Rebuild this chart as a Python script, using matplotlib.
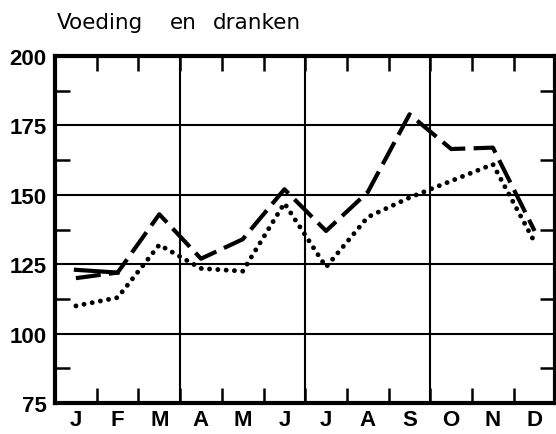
import numpy as np
import matplotlib.pyplot as plt

months = ['J', 'F', 'M', 'A', 'M', 'J', 'J', 'A', 'S', 'O', 'N', 'D']
dashed_values = [120, 122, 143, 127, 134, 152, 137, 151, 179, 166.5, 167, 137]
dotted_values = [110, 113, 132, 123.5, 122.5, 147, 124, 142, 149, 155, 161, 133]
solid_values = [123, 122]   # short solid piece at J-F
y_ticks = [75, 100, 125, 150, 175, 200]

x = np.arange(len(months))

fig = plt.figure(figsize=(5.56, 4.35), dpi=100)
ax = fig.add_axes([0.099, 0.071, 0.9, 0.798])

# grid: horizontal at the labelled values, vertical at the quarters
for v in y_ticks[1:-1]:
    ax.axhline(v, color='black', lw=1.5, zorder=1)
for q in [2.5, 5.5, 8.5]:
    ax.axvline(q, color='black', lw=1.5, zorder=1)

ax.plot(x, dashed_values, color='black', lw=3, linestyle=(0, (6, 2)),
        solid_capstyle='butt', zorder=3)
ax.plot(x, dotted_values, color='black', lw=3.5, linestyle=(0, (0.01, 1.7)),
        dash_capstyle='round', zorder=3)
ax.plot(x[:2], solid_values, color='black', lw=3, zorder=3)

ax.set_xlim(-0.5, 11.5)
ax.set_ylim(75, 200)

ax.set_xticks(x)
ax.set_xticklabels(months)
ax.set_xticks(np.arange(0.5, 11, 1), minor=True)
ax.set_yticks(y_ticks)
ax.set_yticks(np.arange(87.5, 200, 25), minor=True)

ax.tick_params(axis='both', which='major', length=0, labelsize=16)
ax.tick_params(axis='x', which='major', pad=4)
ax.tick_params(axis='y', which='major', pad=6)
ax.tick_params(axis='x', which='minor', direction='in', length=11, width=1.8,
               top=True, bottom=True)
ax.tick_params(axis='y', which='minor', direction='in', length=11, width=1.8,
               left=True, right=True)
for lab in ax.get_xticklabels() + ax.get_yticklabels():
    lab.set_fontweight('bold')
    lab.set_family('Liberation Sans')

for s in ax.spines.values():
    s.set_linewidth(3)

title_words = ['Voeding', 'en', 'dranken']
for word, px in zip(title_words, [57, 170, 213]):
    fig.text(px / 556, 0.946, word, fontsize=15.5, ha='left', va='center')

fig.savefig('out.png', dpi=100)
